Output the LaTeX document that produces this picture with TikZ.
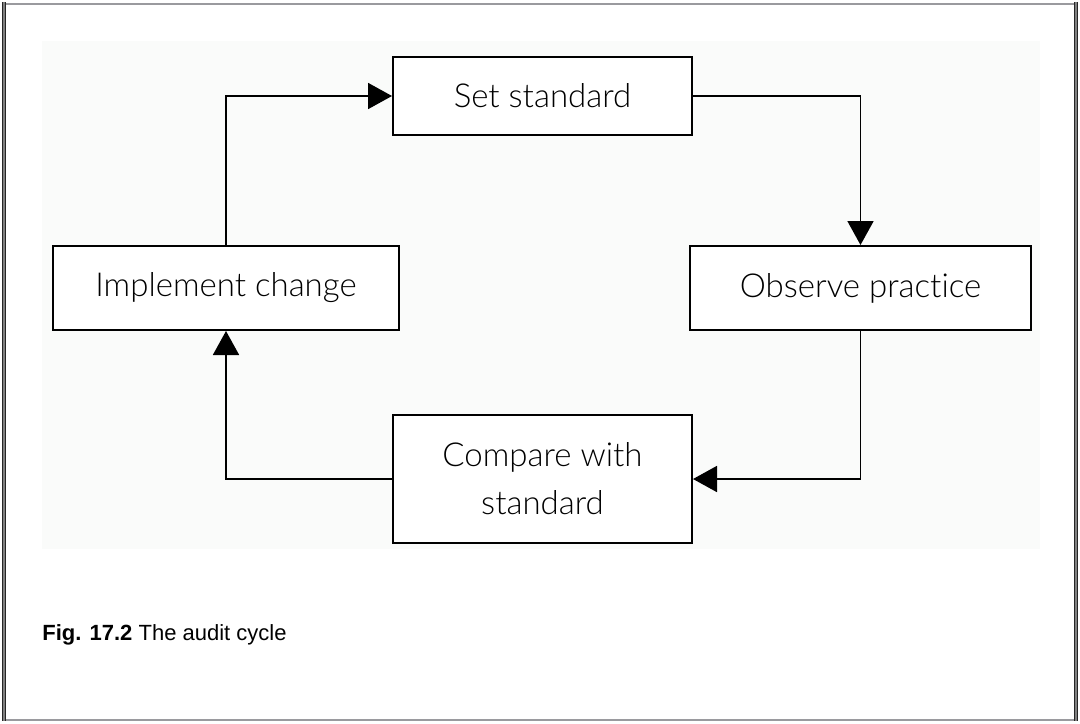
\documentclass[tikz,border=0pt]{standalone}
\usepackage{fontspec}
\setmainfont{Lato Light}[Ligatures=NoCommon]
\newfontfamily\capfont{Liberation Sans}
\usetikzlibrary{arrows.meta}
\definecolor{panelgray}{HTML}{FAFBFA}
\definecolor{framegray}{HTML}{9A9A9E}
\tikzset{
  stagebox/.style={draw,fill=white,shape=rectangle,line width=1pt,inner sep=0pt,
    align=center,text=black,font=\fontsize{16.5}{24}\selectfont},
  cycleline/.style={line width=0.9pt,->,>={Triangle[length=12pt,width=13pt]}}
}
\begin{document}
\begin{tikzpicture}[x=0.5pt,y=-0.5pt]
	\useasboundingbox (0,0) rectangle (1080,723);
	% frame round the figure and the shaded panel
	\fill[panelgray] (42,41) rectangle (1040,549);
	\draw[framegray,line width=1pt] (2,3.5) -- (1078,3.5);
	\draw[framegray,line width=1pt] (2,720) -- (1078,720);
	\draw[black!85,line width=0.5pt,double=gray,double distance=0.7pt] (4,2) -- (4,721);
	\draw[black!85,line width=0.5pt,double=gray,double distance=0.7pt] (1076,2) -- (1076,721);
	\begin{scope}
		\path (542.5, 96) node[stagebox,minimum width=149.5pt,minimum height=39pt] (setstd) {Set standard};
		\path (860.5,288) node[stagebox,minimum width=170.5pt,minimum height=42pt] (observe) {Observe practice};
		\path (542.5,479) node[stagebox,minimum width=149.5pt,minimum height=64pt] (compare) {Compare with\\standard};
		\path (226  ,288) node[stagebox,minimum width=173pt,minimum height=42pt] (implement) {Implement change};
		\draw[cycleline] (implement.north) |- (setstd.west);
		\draw[cycleline] (setstd.east) -| (observe.north);
		\draw[cycleline] (observe.south) |- (compare.east);
		\draw[cycleline] (compare.west) -| (implement.south);
	\end{scope}
	\path (42,640) node[anchor=base west,inner sep=0pt,font=\capfont\fontsize{11}{13}\selectfont] (caption) {\textbf{Fig. 17.2} The audit cycle};
\end{tikzpicture}
\end{document}
